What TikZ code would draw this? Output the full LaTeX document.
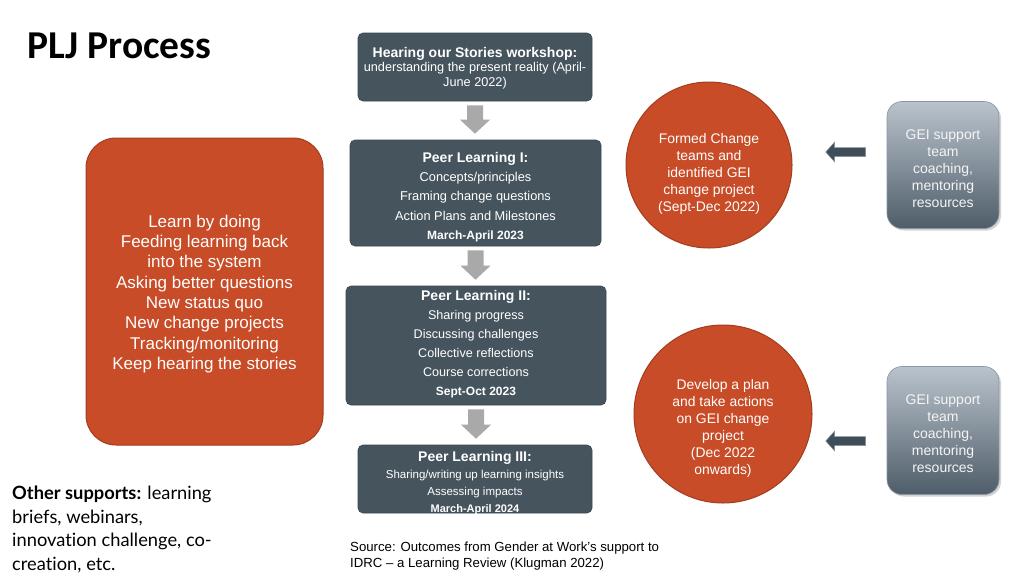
\documentclass[tikz,border=0pt]{standalone}
\usepackage{fontspec}
\setmainfont{Liberation Sans}
\newfontfamily\titlefont{Carlito}
\newfontfamily\latofont[Ligatures=NoCommon]{Lato}
\usetikzlibrary{shadows,calc}
\definecolor{slate}{HTML}{46545E}
\definecolor{slateedge}{HTML}{3A4650}
\definecolor{rust}{HTML}{C84C27}
\definecolor{rustedge}{HTML}{A33D1F}
\definecolor{arrowgray}{HTML}{A9A9A9}
\definecolor{darkarrow}{HTML}{3F4D58}
\definecolor{gtop}{HTML}{BAC3CC}
\definecolor{gbot}{HTML}{4E5D69}
\definecolor{gedge}{HTML}{8A96A1}
\tikzset{
  stagebox/.style={draw=slateedge, line width=0.6pt, fill=slate, rounded corners=5pt,
    inner sep=0pt, text=white},
  lessonbox/.style={draw=rustedge, line width=1pt, fill=rust, rounded corners=30pt, inner sep=0pt},
  bigcirc/.style={circle, draw=rustedge, line width=1pt, fill=rust, inner sep=0pt},
  gradbox/.style={draw=gedge, line width=0.6pt, rounded corners=15pt, inner sep=0pt,
    top color=gtop, bottom color=gbot,
    drop shadow={opacity=0.35, shadow xshift=2pt, shadow yshift=-2pt}},
  whitetext/.style={text=white, align=center, inner sep=0pt},
}
\begin{document}
\begin{tikzpicture}[x=1pt,y=-1pt]
\useasboundingbox[fill=white] (0,0) rectangle (1024,576);

% title
\node[anchor=base west, inner sep=0pt, font=\titlefont\bfseries\fontsize{39.5}{40}\selectfont] (title) at (27,58) {PLJ Process};

% central stages
\node[stagebox, minimum width=234pt, minimum height=68pt] (b1) at (475,67) {};
\node[whitetext, font=\fontsize{12.7}{14.5}\selectfont] (b1t) at (475,68)
  {{\bfseries\fontsize{14}{14.5}\selectfont Hearing our Stories workshop:}\\
   understanding the present reality (April-\\June 2022)};

\node[stagebox, minimum width=251pt, minimum height=106pt] (b2) at (475.5,193) {};
\node[whitetext, font=\fontsize{12.8}{19.3}\selectfont] (b2t) at (475.5,197)
  {{\bfseries\fontsize{14}{19.3}\selectfont Peer Learning I:}\\
   Concepts/principles\\
   Framing change questions\\
   Action Plans and Milestones\\
   {\bfseries\fontsize{12}{19.3}\selectfont March-April 2023}};

\node[stagebox, minimum width=260pt, minimum height=119pt] (b3) at (476,345.5) {};
\node[whitetext, font=\fontsize{12.6}{19}\selectfont] (b3t) at (476,344.5)
  {{\bfseries\fontsize{14}{19}\selectfont Peer Learning II:}\\
   Sharing progress\\
   Discussing challenges\\
   Collective reflections\\
   Course corrections\\
   {\bfseries\fontsize{12}{19}\selectfont Sept-Oct 2023}};

\node[stagebox, minimum width=234pt, minimum height=68pt] (b4) at (475,479) {};
\node[whitetext, font=\fontsize{11.5}{17}\selectfont] (b4t) at (475,483)
  {{\bfseries\fontsize{14}{17}\selectfont Peer Learning III:}\\
   Sharing/writing up learning insights\\
   Assessing impacts\\
   {\bfseries\fontsize{11}{17}\selectfont March-April 2024}};

% gray block arrows between stages
\foreach \a/\b in {b1/b2, b2/b3, b3/b4}{
  \path[fill=arrowgray] let \p1=($(\a.south)+(0,4)$), \p2=($(\b.north)+(0,-6)$) in
    (\x1-8pt,\y1) -- (\x1+8pt,\y1) -- (\x1+8pt,\y2+14pt) -- (\x1+15pt,\y2+14pt)
    -- (\x1,\y2) -- (\x1-15pt,\y2+14pt) -- (\x1-8pt,\y2+14pt) -- cycle;
}

% left box
\node[lessonbox, minimum width=237pt, minimum height=307pt] (L) at (204.5,291.5) {};
\node[whitetext, font=\fontsize{17}{20.3}\selectfont] (Lt) at (204.5,294)
  {Learn by doing\\Feeding learning back\\into the system\\Asking better questions\\
   New status quo\\New change projects\\Tracking/monitoring\\Keep hearing the stories};

% circles
\node[bigcirc, minimum size=166pt] (c1) at (709,165) {};
\node[whitetext, font=\fontsize{13.9}{17}\selectfont] (c1t) at (709,174)
  {Formed Change\\teams and\\identified GEI\\change project\\(Sept-Dec 2022)};
\node[bigcirc, minimum size=178pt] (c2) at (723,414) {};
\node[whitetext, font=\fontsize{13.9}{17}\selectfont] (c2t) at (723,428)
  {Develop a plan\\and take actions\\on GEI change\\project\\(Dec 2022\\onwards)};

% support boxes
\node[gradbox, minimum width=112pt, minimum height=127pt] (g1) at (943,165) {};
\node[whitetext, text=white!92!gray, font=\fontsize{14}{17}\selectfont] (g1t) at (943,169)
  {GEI support\\team\\coaching,\\mentoring\\resources};
\node[gradbox, minimum width=112pt, minimum height=128pt] (g2) at (943,430.5) {};
\node[whitetext, text=white!92!gray, font=\fontsize{14}{17}\selectfont] (g2t) at (943,434)
  {GEI support\\team\\coaching,\\mentoring\\resources};

% dark arrows from support boxes to circles
\foreach \g/\dy in {g1/-13, g2/10.5}{
  \path[fill=darkarrow, draw=gedge, line width=0.5pt] let \p1=($(\g.west)+(-21,\dy)$) in
    (\x1,\y1+4.5pt) -- (\x1-31pt,\y1+4.5pt) -- (\x1-31pt,\y1+10pt) -- (\x1-40pt,\y1)
    -- (\x1-31pt,\y1-10pt) -- (\x1-31pt,\y1-4.5pt) -- (\x1,\y1-4.5pt) -- cycle;
}

% other supports
\node[anchor=north west, inner sep=0pt, align=left, font=\latofont\fontsize{18.3}{23.4}\selectfont] (other) at (12,486)
  {{\bfseries Other supports:} learning\\briefs, webinars,\\innovation challenge, co-\\creation, etc.};

% source
\node[anchor=north west, inner sep=0pt, align=left, font=\fontsize{13.2}{16}\selectfont] (src) at (350,542)
  {Source: Outcomes from Gender at Work's support to\\IDRC -- a Learning Review (Klugman 2022)};
\end{tikzpicture}
\end{document}
